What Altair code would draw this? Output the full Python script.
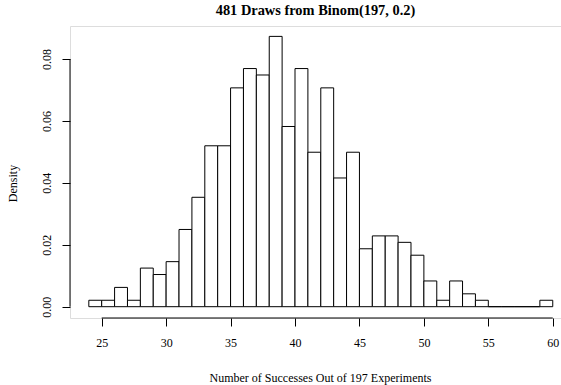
import altair as alt
import pandas as pd

# Histogram of 481 draws, bins of width 1 (right-closed), from 24 to 60
bin_starts = list(range(24, 60))
counts = [1, 1, 3, 1, 6, 5, 7, 12, 17, 25, 25, 34, 37, 36, 42, 28, 37,
          24, 34, 20, 24, 9, 11, 11, 10, 8, 4, 1, 4, 2, 1, 0, 0, 0, 0, 1]
n_draws = 481
x_ticks = [25, 30, 35, 40, 45, 50, 55, 60]
y_ticks = [0.0, 0.02, 0.04, 0.06, 0.08]

df = pd.DataFrame({
    "start": bin_starts,
    "end": [s + 1 for s in bin_starts],
    "density": [c / n_draws for c in counts],
})

FONT = "Liberation Serif"
X_DOMAIN = [22.54, 60.64]
Y_DOMAIN = [-0.00365, 0.09067]
W, H = 491, 292

xscale = alt.Scale(domain=X_DOMAIN, nice=False, zero=False)
yscale = alt.Scale(domain=Y_DOMAIN, nice=False, zero=False)

bars = alt.Chart(df).mark_rect(fill="white", stroke="black", strokeWidth=1).encode(
    x=alt.X("start:Q", scale=xscale,
            axis=alt.Axis(values=x_ticks, title="Number of Successes Out of 197 Experiments",
                          domain=False, grid=False, tickSize=8, tickColor="black",
                          labelFont=FONT, labelFontSize=12, labelColor="black",
                          labelPadding=11, labelFlush=False,
                          titleFont=FONT, titleFontSize=12, titleFontWeight="normal",
                          titleColor="black", titleX=250, titleY=59,
                          titleBaseline="middle", titleAlign="center")),
    x2="end:Q",
    y=alt.Y("density:Q", scale=yscale,
            axis=alt.Axis(values=y_ticks, format=".2f", title="Density",
                          domain=False, grid=False, tickSize=8, tickColor="black",
                          labelFont=FONT, labelFontSize=12, labelColor="black",
                          labelAngle=270, labelAlign="center", labelBaseline="bottom",
                          labelPadding=9, labelFlush=False,
                          titleFont=FONT, titleFontSize=12, titleFontWeight="normal",
                          titleColor="black", titleAngle=270, titleX=-58,
                          titleY=157, titleBaseline="middle", titleAlign="center")),
    y2=alt.datum(0),
)

x_line = alt.Chart(pd.DataFrame({"a": [x_ticks[0]], "b": [x_ticks[-1]]})).mark_rule(
    color="black", strokeWidth=1).encode(
    x=alt.X("a:Q", scale=xscale), x2="b:Q", y=alt.value(H))

y_line = alt.Chart(pd.DataFrame({"a": [y_ticks[0]], "b": [y_ticks[-1]]})).mark_rule(
    color="black", strokeWidth=1).encode(
    y=alt.Y("a:Q", scale=yscale), y2="b:Q", x=alt.value(0))

chart = alt.layer(bars, x_line, y_line).properties(
    width=W, height=H,
    title=alt.Title("481 Draws from Binom(197, 0.2)", font=FONT, fontSize=14.4,
                    fontWeight="bold", color="black", anchor="middle", offset=8),
    padding={"left": 70, "top": 26, "right": 0, "bottom": 67},
    autosize=alt.AutoSizeParams(type="none"),
).configure_view(stroke=None).configure(background="white")

chart.save("out.html", embed_options={"renderer": "svg", "actions": False})
